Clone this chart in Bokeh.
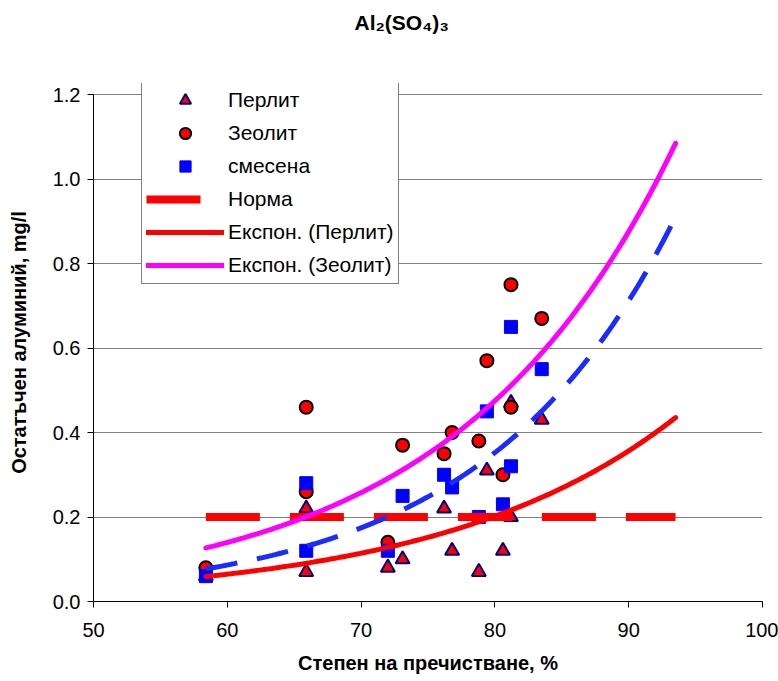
import numpy as np
from bokeh.plotting import figure
from bokeh.models import Range1d, FixedTicker, PrintfTickFormatter, Legend, LegendItem, Title
from bokeh.embed import file_html
from bokeh.resources import INLINE

# ---- data ----
x_vals = [58.4, 65.9, 65.9, 72.0, 73.1, 76.2, 76.8, 78.8, 79.4, 80.6, 81.2, 81.2, 83.5]
perlit = [0.06, 0.22, 0.07, 0.08, 0.10, 0.22, 0.12, 0.07, 0.31, 0.12, 0.20, 0.47, 0.43]
zeolit = [0.08, 0.26, 0.46, 0.14, 0.37, 0.35, 0.40, 0.38, 0.57, 0.30, 0.75, 0.46, 0.67]
smesena = [0.06, 0.28, 0.12, 0.12, 0.25, 0.30, 0.27, 0.20, 0.45, 0.23, 0.65, 0.32, 0.55]
norm_x = [58.4, 93.5]
norm_y = [0.2, 0.2]
forecast = 10  # trendline forward forecast (x units)
x_ticks = [50, 60, 70, 80, 90, 100]
y_ticks = [0.0, 0.2, 0.4, 0.6, 0.8, 1.0, 1.2]

labels = ["Перлит", "Зеолит", "смесена", "Норма", "Експон. (Перлит)", "Експон. (Зеолит)"]
title = "Al₂(SO₄)₃"
x_title = "Степен на пречистване, %"
y_title = "Остатъчен алуминий, mg/l"


def exp_fit(x, y):
    # exponential trendline (least squares on ln y), like a spreadsheet trendline
    b, ln_a = np.polyfit(np.array(x, float), np.log(np.array(y, float)), 1)
    xs = np.linspace(min(x), max(x) + forecast, 150)
    return xs, np.exp(ln_a + b * xs)


FONT = "Liberation Sans"

# frame reaches a little above 1.2 so the legend box (which pokes above the plot area) is not clipped
TOP_PX, BOTTOM_PX, AXIS_TOP_PX = 83, 601, 94
y_top = y_ticks[-1] * (BOTTOM_PX - TOP_PX) / (BOTTOM_PX - AXIS_TOP_PX)

p = figure(width=778, height=681, output_backend="svg", toolbar_location=None,
           x_range=Range1d(x_ticks[0], x_ticks[-1]), y_range=Range1d(y_ticks[0], y_top),
           min_border_left=93, min_border_right=16, min_border_top=TOP_PX,
           min_border_bottom=681 - BOTTOM_PX)
p.background_fill_color = "white"
p.border_fill_color = "white"
p.outline_line_color = None

# spacer between the chart title and the plot area
p.add_layout(Title(text=" ", text_font_size="1px", standoff=35), "above")

p.title.text = title
p.title.align = "left"
p.title.offset = 261
p.title.text_font = FONT
p.title.text_font_size = "21px"
p.title.text_font_style = "bold"
p.title.text_color = "black"
p.title.vertical_align = "top"
p.title.standoff = 20

# axes
for ax in (p.xaxis[0], p.yaxis[0]):
    ax.axis_line_color = "black"
    ax.axis_line_width = 1
    ax.major_tick_in = 0
    ax.major_tick_out = 6
    ax.major_tick_line_color = "black"
    ax.minor_tick_line_color = None
    ax.major_label_text_font = FONT
    ax.major_label_text_font_size = "20px"
    ax.major_label_text_color = "black"
    ax.axis_label_text_font = FONT
    ax.axis_label_text_font_size = "20px"
    ax.axis_label_text_font_style = "bold"
    ax.axis_label_text_color = "black"

p.xaxis.ticker = FixedTicker(ticks=x_ticks)
p.yaxis.ticker = FixedTicker(ticks=y_ticks)
p.yaxis.bounds = (y_ticks[0], y_ticks[-1])
p.yaxis.formatter = PrintfTickFormatter(format="%.1f")
p.xaxis.axis_label = x_title
p.yaxis.axis_label = y_title
p.xaxis.major_label_standoff = 15
p.xaxis.axis_label_standoff = 12
p.yaxis.major_label_standoff = 7
p.yaxis.axis_label_standoff = 20

p.xgrid.visible = False
p.ygrid.ticker = FixedTicker(ticks=y_ticks)
p.ygrid.grid_line_color = "#808080"
p.ygrid.grid_line_width = 1

# markers
r_p = p.scatter(x_vals, perlit, marker="triangle", size=14, fill_color="#FF0000",
                line_color="#000080", line_width=2)
r_z = p.scatter(x_vals, zeolit, marker="circle", size=13, fill_color="#FF0000",
                line_color="#000000", line_width=2)
r_s = p.scatter(x_vals, smesena, marker="square", size=13, fill_color="#0000FF",
                line_color="#0000FF", line_width=1)

# norm line
r_n = p.line(norm_x, norm_y, line_color="#FF0000", line_width=8, line_dash="54 30")

# trendlines
xs_s, ys_s = exp_fit(x_vals, smesena)
xs_p, ys_p = exp_fit(x_vals, perlit)
xs_z, ys_z = exp_fit(x_vals, zeolit)
r_ts = p.line(xs_s, ys_s, line_color="#1a2cff", line_width=5, line_dash="32 20")
r_tp = p.line(xs_p, ys_p, line_color="#FF0000", line_width=5, line_cap="round")
r_tz = p.line(xs_z, ys_z, line_color="#FF00FF", line_width=5, line_cap="round")

legend = Legend(items=[
    LegendItem(label=labels[0], renderers=[r_p]),
    LegendItem(label=labels[1], renderers=[r_z]),
    LegendItem(label=labels[2], renderers=[r_s]),
    LegendItem(label=labels[3], renderers=[r_n]),
    LegendItem(label=labels[4], renderers=[r_tp]),
    LegendItem(label=labels[5], renderers=[r_tz]),
], location=(48, 317))
legend.border_line_color = "black"
legend.border_line_width = 1
legend.background_fill_color = "white"
legend.background_fill_alpha = 1
legend.padding = 4
legend.margin = 0
legend.spacing = 5
legend.glyph_width = 78
legend.glyph_height = 28
legend.label_height = 28
legend.label_standoff = 4
legend.label_text_font = FONT
legend.label_text_font_size = "21px"
legend.label_text_color = "black"
p.add_layout(legend)

open("out.html", "w").write(file_html(p, INLINE))
